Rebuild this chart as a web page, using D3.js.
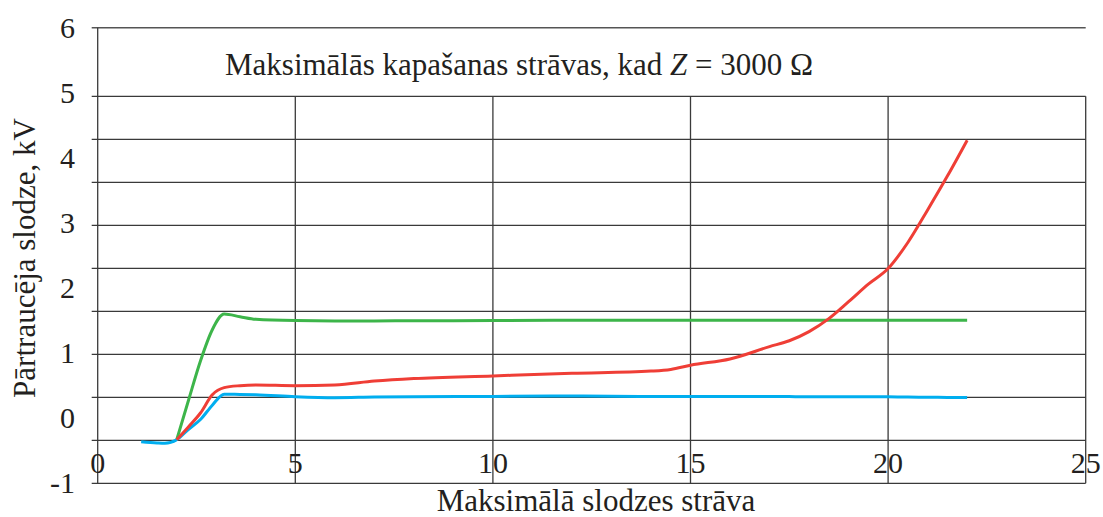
<!DOCTYPE html>
<html>
<head>
<meta charset="utf-8">
<script src="https://cdn.jsdelivr.net/npm/d3@7"></script>
<style>
    body { margin: 0; background: #fff; }
    text { font-family: "Liberation Serif", "Times New Roman", serif; fill: #231f20; }
</style>
</head>
<body>
<div id="chart-area"></div>
<script>

// Data
var xValues = [1.1, 1.5, 1.7, 2.0, 2.3, 2.6, 2.9, 3.2, 3.6, 4, 5, 6, 7, 8, 10, 12, 14, 14.5, 15, 16, 17, 17.5, 18, 18.5, 19, 19.5, 20, 20.5, 21, 21.5, 22];

var greenValues = [null, null, null, -0.33, 0.28, 0.88, 1.36, 1.6, 1.56, 1.52, 1.5, 1.495, 1.495, 1.497, 1.5, 1.505, 1.505, 1.505, 1.505, 1.505, 1.505, 1.505, 1.505, 1.505, 1.505, 1.505, 1.505, 1.505, 1.505, 1.505, 1.505];

var redValues = [null, null, null, -0.33, -0.13, 0.08, 0.36, 0.47, 0.5, 0.51, 0.5, 0.51, 0.57, 0.61, 0.65, 0.69, 0.725, 0.75, 0.815, 0.91, 1.1, 1.19, 1.33, 1.53, 1.79, 2.06, 2.3, 2.7, 3.2, 3.72, 4.27];

var blueValues = [-0.36, -0.38, -0.385, -0.33, -0.17, -0.02, 0.2, 0.37, 0.365, 0.36, 0.33, 0.315, 0.325, 0.33, 0.335, 0.34, 0.335, 0.335, 0.335, 0.333, 0.332, 0.332, 0.33, 0.33, 0.33, 0.33, 0.328, 0.325, 0.322, 0.32, 0.318];

var xTicks = [0, 5, 10, 15, 20, 25];
var yTicks = [-1, 0, 1, 2, 3, 4, 5, 6];
// secondary grid (evenly spaced lines below the "5" label)
var gridTicks = [0, 0.5, 1, 1.5, 2, 2.5, 3, 3.5, 4, 4.5];

var series = [
    { name: "green", color: "#3db54a", values: greenValues },
    { name: "blue", color: "#00aeef", values: blueValues },
    { name: "red", color: "#ef3e36", values: redValues }
];

var width = 1103, height = 517;

var svg = d3.select("#chart-area").append("svg")
    .attr("width", width)
    .attr("height", height);

// Scales
var x = d3.scaleLinear()
    .domain([0, 25])
    .range([97.7, 1085.7]);

var y = d3.scaleLinear()
    .domain([-1, 6])
    .range([483.3, 27.7]);

var yGrid = d3.scaleLinear()
    .domain([0, 4.5])
    .range([y(-1), y(4.945)]);

var gridColor = "#3a3a3a";

// Horizontal grid lines
svg.selectAll(".h-grid")
    .data(gridTicks)
    .enter()
    .append("line")
    .attr("class", "h-grid")
    .attr("x1", x(0) - 6)
    .attr("x2", x(25))
    .attr("y1", function(d) { return yGrid(d); })
    .attr("y2", function(d) { return yGrid(d); })
    .attr("stroke", gridColor)
    .attr("stroke-width", 1.3);

// top border at 6
svg.append("line")
    .attr("x1", x(0) - 6)
    .attr("x2", x(25))
    .attr("y1", y(6))
    .attr("y2", y(6))
    .attr("stroke", "#555")
    .attr("stroke-width", 1.6);

// Vertical grid lines
svg.selectAll(".v-grid")
    .data(xTicks.slice(1))
    .enter()
    .append("line")
    .attr("class", "v-grid")
    .attr("x1", function(d) { return x(d); })
    .attr("x2", function(d) { return x(d); })
    .attr("y1", yGrid(4.5))
    .attr("y2", y(-1))
    .attr("stroke", gridColor)
    .attr("stroke-width", 1.3);

// y axis line
svg.append("line")
    .attr("x1", x(0))
    .attr("x2", x(0))
    .attr("y1", y(6))
    .attr("y2", y(-1))
    .attr("stroke", gridColor)
    .attr("stroke-width", 1.3);

// Tick labels
svg.selectAll(".x-label")
    .data(xTicks)
    .enter()
    .append("text")
    .attr("class", "x-label")
    .attr("x", function(d) { return x(d); })
    .attr("y", 473)
    .attr("text-anchor", "middle")
    .style("font-size", "30px")
    .text(function(d) { return d; });

svg.selectAll(".y-label")
    .data(yTicks)
    .enter()
    .append("text")
    .attr("class", "y-label")
    .attr("x", 75)
    .attr("y", function(d) { return y(d) + 10; })
    .attr("text-anchor", "end")
    .style("font-size", "30px")
    .text(function(d) { return d; });

// Lines
var line = d3.line()
    .defined(function(d) { return d[1] !== null; })
    .x(function(d) { return x(d[0]); })
    .y(function(d) { return y(d[1]); })
    .curve(d3.curveMonotoneX);

svg.selectAll(".series")
    .data(series)
    .enter()
    .append("path")
    .attr("class", "series")
    .attr("fill", "none")
    .attr("stroke", function(d) { return d.color; })
    .attr("stroke-width", 3)
    .attr("stroke-linejoin", "round")
    .attr("d", function(d) {
        return line(xValues.map(function(v, i) { return [v, d.values[i]]; }));
    });

// Title
var title = svg.append("text")
    .attr("x", 225)
    .attr("y", 75)
    .style("font-size", "31px");
title.append("tspan").text("Maksimālās kapašanas strāvas, kad ");
title.append("tspan").style("font-style", "italic").text("Z");
title.append("tspan").text(" = 3000 Ω");

// Axis titles
svg.append("text")
    .attr("x", 596)
    .attr("y", 511)
    .attr("text-anchor", "middle")
    .style("font-size", "31px")
    .text("Maksimālā slodzes strāva");

svg.append("text")
    .attr("transform", "translate(35,258) rotate(-90)")
    .attr("text-anchor", "middle")
    .style("font-size", "31px")
    .text("Pārtraucēja slodze, kV");

</script>
</body>
</html>
